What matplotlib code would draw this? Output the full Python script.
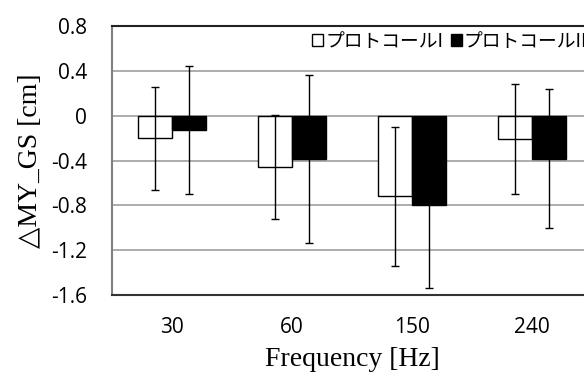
import matplotlib
matplotlib.use('Agg')
import matplotlib.pyplot as plt
import numpy as np

# data
freqs = ['30', '60', '150', '240']
mean_p1 = [-0.20, -0.455, -0.72, -0.21]
sd_p1 = [0.46, 0.465, 0.62, 0.49]
mean_p2 = [-0.13, -0.385, -0.80, -0.385]
sd_p2 = [0.57, 0.75, 0.74, 0.62]
labels = ['プロトコールI', 'プロトコールII']

fig = plt.figure(figsize=(5.84, 3.79), dpi=100)
ax = fig.add_axes([112 / 584, 1 - 295 / 379, 480 / 584, 269 / 379])

x = np.arange(len(freqs))
w = 0.283
err_kw = dict(ecolor='black', elinewidth=1.0, capsize=3, capthick=1.0, zorder=4)
ax.bar(x - w / 2, mean_p1, w, yerr=sd_p1, color='white', edgecolor='black',
       linewidth=1.0, label=labels[0], error_kw=err_kw, zorder=3)
ax.bar(x + w / 2, mean_p2, w, yerr=sd_p2, color='black', edgecolor='black',
       linewidth=1.0, label=labels[1], error_kw=err_kw, zorder=3)

ax.set_xlim(-0.5, len(freqs) - 0.5)
ax.set_ylim(-1.6, 0.8)
yt = [0.8, 0.4, 0, -0.4, -0.8, -1.2, -1.6]
ax.set_yticks(yt)
ax.set_yticklabels(['0.8', '0.4', '0', '-0.4', '-0.8', '-1.2', '-1.6'],
                   family='Open Sans', fontsize=15)
ax.set_xticks(x)
ax.set_xticklabels(freqs, family='Open Sans', fontsize=15)
ax.tick_params(length=0)
ax.tick_params(axis='y', pad=18)
ax.tick_params(axis='x', pad=16)

ax.grid(axis='y', color='#a6a6a6', linewidth=1.3, zorder=0)
ax.set_axisbelow(True)
ax.spines['right'].set_visible(False)
ax.spines['left'].set_color('#808080')
ax.spines['left'].set_linewidth(1.5)
ax.spines['bottom'].set_color('#333333')
ax.spines['bottom'].set_linewidth(1.5)
ax.spines['top'].set_color('#222222')
ax.spines['top'].set_linewidth(1.5)

ax.set_xlabel('Frequency [Hz]', family='Liberation Serif', fontsize=20, labelpad=6)
ax.set_ylabel('△MY_GS [cm]', family=['Liberation Serif', 'DejaVu Serif'],
              fontsize=20, labelpad=6)

leg = ax.legend(loc='upper left', bbox_to_anchor=(312 / 584, 1 - 31 / 379),
                bbox_transform=fig.transFigure, ncol=2, frameon=False,
                prop={'family': ['Noto Sans CJK JP', 'DejaVu Sans'], 'size': 13.5},
                handlelength=0.6, handleheight=0.6, handletextpad=0.1,
                columnspacing=0.4, borderaxespad=0, borderpad=0)

fig.savefig('out.png', dpi=100)
plt.close(fig)
